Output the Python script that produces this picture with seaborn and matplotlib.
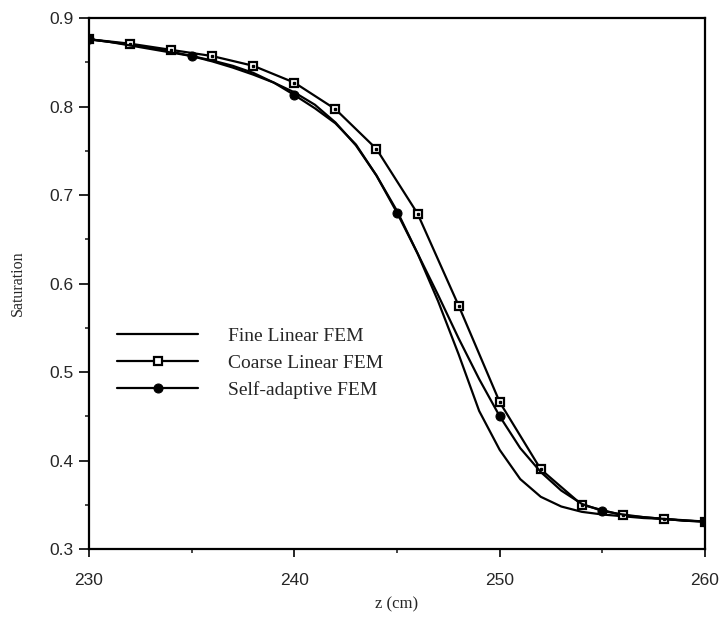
import numpy as np
import pandas as pd
import matplotlib
matplotlib.use('Agg')
import matplotlib.pyplot as plt
import seaborn as sns

# saturation profiles
z_fine = [230, 231, 232, 233, 234, 235, 236, 237, 238, 239, 240, 241, 242, 243, 244, 245,
          246, 247, 248, 249, 250, 251, 252, 253, 254, 255, 256, 257, 258, 259, 260]
s_fine = [0.876, 0.873, 0.870, 0.866, 0.862, 0.857, 0.851, 0.844, 0.836, 0.827, 0.816, 0.802,
          0.782, 0.756, 0.722, 0.682, 0.634, 0.580, 0.520, 0.456, 0.412, 0.379, 0.359, 0.348,
          0.342, 0.339, 0.337, 0.335, 0.334, 0.332, 0.331]

z_coarse = [230, 232, 234, 236, 238, 240, 242, 244, 246, 248, 250, 252, 254, 256, 258, 260]
s_coarse = [0.876, 0.871, 0.864, 0.857, 0.846, 0.827, 0.797, 0.752, 0.679, 0.575, 0.466,
            0.390, 0.350, 0.338, 0.334, 0.331]

z_adapt = z_fine
s_adapt = [0.876, 0.873, 0.869, 0.865, 0.861, 0.857, 0.852, 0.846, 0.838, 0.827, 0.813, 0.798,
           0.781, 0.757, 0.722, 0.680, 0.634, 0.587, 0.538, 0.492, 0.450, 0.414, 0.387, 0.366,
           0.351, 0.343, 0.339, 0.336, 0.334, 0.332, 0.331]
adapt_nodes = 5  # a marker every 5 cm

labels = ['Fine Linear FEM', 'Coarse Linear FEM', 'Self-adaptive FEM']

sns.set_style('ticks')
plt.rcParams['font.family'] = ['Liberation Sans', 'DejaVu Sans']

fig = plt.figure(figsize=(7.22, 6.17), dpi=100)
ax = fig.add_axes([0.1233, 0.1102, 0.8532, 0.8606])

sns.lineplot(x=z_fine, y=s_fine, ax=ax, color='black', lw=1.6, label=labels[0])
sns.lineplot(x=z_coarse, y=s_coarse, ax=ax, color='black', lw=1.6, marker='s', ms=6,
             mfc='white', mec='black', mew=1.6, label=labels[1])
ax.plot(z_coarse, s_coarse, ls='none', marker='s', ms=1.5, color='black')
sns.lineplot(x=z_adapt, y=s_adapt, ax=ax, color='black', lw=1.6, marker='o', ms=6.5,
             mfc='black', mec='black', markevery=adapt_nodes, label=labels[2])

ax.set_xlim(230, 260)
ax.set_ylim(0.3, 0.9)
ax.set_xticks([230, 240, 250, 260])
ax.set_xticks([235, 245, 255], minor=True)
ax.set_yticks([0.3, 0.4, 0.5, 0.6, 0.7, 0.8, 0.9])
ax.set_yticks(np.arange(0.35, 0.9, 0.1), minor=True)
ax.set_yticklabels(['0.3', '0.4', '0.5', '0.6', '0.7', '0.8', '0.9'])

for side in ['top', 'right', 'bottom', 'left']:
    ax.spines[side].set_linewidth(1.6)
    ax.spines[side].set_color('black')

ax.tick_params(axis='x', which='major', direction='out', length=6, width=1.4, pad=11,
               labelsize=12.5)
ax.tick_params(axis='y', which='major', direction='out', length=7, width=1.4, pad=4,
               labelsize=12.5)
ax.tick_params(which='minor', direction='out', length=3, width=1.2)

ax.set_xlabel('z (cm)', family=['Liberation Serif'], fontsize=12, labelpad=6)
ax.set_ylabel('Saturation', family=['Liberation Serif'], fontsize=11.5, labelpad=17)

ax.legend(loc='upper left', bbox_to_anchor=(0.045, 0.418), frameon=False, borderpad=0,
          borderaxespad=0, handlelength=4.2, handletextpad=1.5, labelspacing=0.48,
          numpoints=1, prop={'family': 'Liberation Serif', 'size': 14})

fig.savefig('out.png', dpi=100)
